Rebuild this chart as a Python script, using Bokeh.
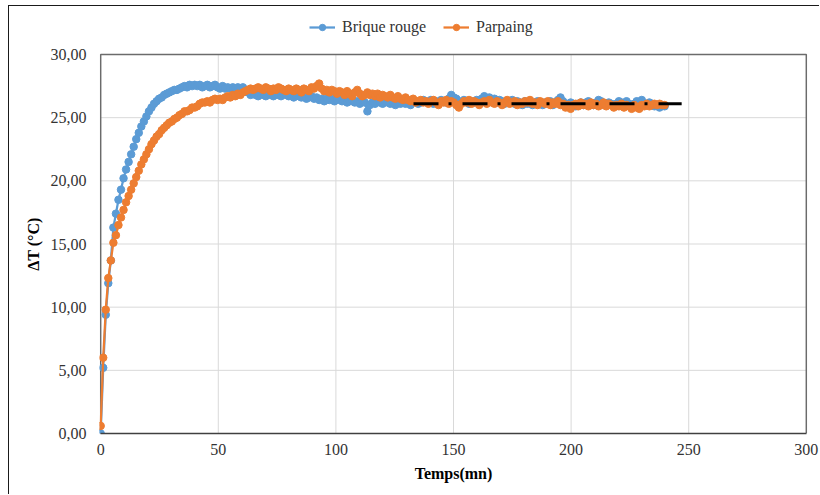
import numpy as np
from bokeh.plotting import figure
from bokeh.models import Range1d, Legend, LegendItem, CustomJSTickFormatter, FixedTicker
from bokeh.embed import file_html
from bokeh.resources import INLINE

# ---------------- data ----------------
sample_interval_min = 1.08

brique_rouge = [
    0.0, 5.2, 9.4, 11.9, 13.7, 16.3, 17.4, 18.5, 19.3, 20.2,
    20.9, 21.5, 22.1, 22.7, 23.3, 23.8, 24.3, 24.7, 25.1, 25.5,
    25.8, 26.1, 26.3, 26.5, 26.6, 26.8, 26.9, 27.0, 27.1, 27.2,
    27.2, 27.3, 27.4, 27.5, 27.4, 27.6, 27.5, 27.6, 27.5, 27.6,
    27.4, 27.5, 27.6, 27.4, 27.5, 27.6, 27.4, 27.3, 27.5, 27.3,
    27.4, 27.3, 27.4, 27.3, 27.4, 27.3, 27.4, 27.2, 27.0, 26.8,
    27.0, 26.8, 26.7, 26.9, 26.8, 26.7, 26.9, 26.8, 26.7, 26.9,
    26.8, 26.7, 26.9, 26.8, 26.7, 26.8, 26.6, 26.8, 26.7, 26.6,
    26.7, 26.5, 26.6, 26.7, 26.5, 26.6, 26.4, 26.5, 26.3, 26.5,
    26.4, 26.5, 26.3, 26.4, 26.5, 26.3, 26.4, 26.2, 26.3, 26.4,
    26.2, 26.3, 26.1, 26.3, 26.2, 25.5, 26.0, 26.2, 26.1, 26.3,
    26.2, 26.1, 26.3, 26.2, 26.1, 26.2, 26.0, 26.2, 26.1, 26.3,
    26.1, 26.2, 26.0, 26.2, 26.3, 26.1, 26.2, 26.4, 26.3, 26.2,
    26.4, 26.1, 26.3, 26.2, 26.4, 26.3, 26.2, 26.5, 26.8, 26.6,
    26.5, 26.3, 26.2, 26.4, 26.3, 26.1, 26.3, 26.2, 26.4, 26.3,
    26.5, 26.7, 26.4, 26.6, 26.3, 26.5, 26.2, 26.4, 26.3, 26.1,
    26.3, 26.2, 26.4, 26.1, 26.3, 26.2, 26.0, 26.3, 26.1, 26.2,
    26.0, 26.2, 26.3, 26.1, 26.0, 26.2, 26.1, 26.3, 26.0, 26.2,
    26.4, 26.6, 26.3, 26.1, 26.0, 26.2, 26.1, 25.9, 26.1, 26.2,
    26.0, 26.2, 26.3, 26.1, 26.0, 26.2, 26.4, 26.3, 26.1, 26.0,
    26.2, 26.1, 25.9, 26.1, 26.3, 26.2, 26.0, 26.3, 26.1, 25.9,
    26.1, 26.3, 26.2, 26.4, 26.1, 26.0, 26.2, 26.1, 25.9, 26.0,
    25.8, 26.0, 25.9,
]

parpaing = [
    0.6, 6.0, 9.8, 12.3, 13.7, 15.1, 15.7, 16.5, 17.1, 17.7,
    18.3, 18.8, 19.3, 19.8, 20.3, 20.8, 21.3, 21.7, 22.1, 22.5,
    22.9, 23.2, 23.5, 23.7, 24.0, 24.2, 24.4, 24.6, 24.7, 24.9,
    25.0, 25.2, 25.3, 25.5, 25.5, 25.6, 25.8, 25.8, 25.9, 26.1,
    26.2, 26.2, 26.3, 26.2, 26.4, 26.5, 26.4, 26.5, 26.4, 26.6,
    26.7, 26.6, 26.8, 26.7, 26.9, 26.8, 27.0, 27.1, 27.2, 27.3,
    27.2, 27.3, 27.4, 27.3, 27.2, 27.4, 27.3, 27.1, 27.3, 27.2,
    27.4, 27.3, 27.2, 27.1, 27.3, 27.2, 27.1, 27.3, 27.2, 27.0,
    27.3, 27.2, 27.1, 27.4, 27.3, 27.5, 27.7, 27.3, 27.1, 27.2,
    27.0, 27.2, 27.1, 26.9, 27.1, 27.0, 26.8, 27.1, 26.9, 26.7,
    27.0, 27.2, 26.9, 26.7, 26.8, 27.0, 26.8, 26.9, 26.7, 26.9,
    26.6, 26.8, 26.7, 26.6, 26.8, 26.6, 26.5, 26.7, 26.5, 26.4,
    26.6, 26.4, 26.3, 26.5, 26.2, 26.3, 26.4, 26.2, 26.3, 26.1,
    26.3, 26.4, 26.2, 26.0, 26.3, 26.2, 26.4, 26.1, 26.3, 26.2,
    26.0, 25.8, 26.1, 26.3, 26.2, 26.4, 26.1, 26.3, 26.2, 26.0,
    26.2, 26.3, 26.1, 26.4, 26.2, 26.1, 26.3, 26.2, 26.0, 26.2,
    26.4, 26.1, 26.2, 26.3, 26.0, 26.2, 26.1, 26.3, 26.2, 26.4,
    26.1, 26.2, 26.0, 26.3, 26.2, 26.1, 26.3, 26.0, 26.2, 26.1,
    26.3, 26.0, 26.1, 25.8, 26.0, 25.7, 26.0, 26.1, 25.9, 26.2,
    26.0, 26.1, 25.9, 26.2, 26.0, 26.1, 25.9, 26.0, 26.2, 25.9,
    26.1, 26.0, 25.8, 26.0, 25.9, 26.1, 25.8, 26.0, 25.9, 25.7,
    26.0, 25.8, 25.7, 26.0, 25.9, 26.1, 25.9, 26.0, 26.1, 26.0,
    26.1, 26.0, 26.0,
]

temps_brique = (np.arange(len(brique_rouge)) * sample_interval_min).tolist()
temps_parpaing = (np.arange(len(parpaing)) * sample_interval_min).tolist()

# horizontal steady-state reference line
palier_x = [133, 247]
palier_y = [26.1, 26.1]

x_ticks = [0, 50, 100, 150, 200, 250, 300]
y_ticks = [0, 5, 10, 15, 20, 25, 30]

series_names = ["Brique rouge", "Parpaing"]
x_title = "Temps(mn)"
y_title = "ΔT (°C)"
BLUE = "#5B9BD5"
ORANGE = "#ED7D31"
FONT = "Liberation Serif"

x_min, x_max = x_ticks[0], x_ticks[-1]
y_min, y_max = y_ticks[0], y_ticks[-1]

# ---------------- figure ----------------
# The frame extends above y=30 so that the legend (drawn inside the frame) is not clipped;
# the visible plot box (0..300 x 0..30) is drawn explicitly.
p = figure(
    width=811, height=489,
    output_backend="svg", toolbar_location=None,
    x_range=Range1d(-0.5, 300.5), y_range=Range1d(0, 33.8),
    min_border_left=90, min_border_right=13,
    min_border_top=0, min_border_bottom=62,
)
p.styles = {
    "margin-left": "8px", "margin-top": "5px",
    "border-left": "1px solid #1a1a1a", "border-top": "1px solid #1a1a1a",
}
p.background_fill_color = "white"
p.border_fill_color = "white"
p.outline_line_color = None
p.xgrid.visible = False
p.ygrid.visible = False

p.xaxis.ticker = FixedTicker(ticks=x_ticks)
p.yaxis.ticker = FixedTicker(ticks=y_ticks)
p.xaxis.bounds = (x_min, x_max)
p.yaxis.bounds = (y_min, y_max)
p.yaxis.formatter = CustomJSTickFormatter(code="return tick.toFixed(2).replace('.', ',');")

for ax in (p.xaxis, p.yaxis):
    ax.major_tick_line_color = None
    ax.minor_tick_line_color = None
    ax.major_tick_out = 0
    ax.major_tick_in = 0
    ax.major_label_text_font = FONT
    ax.major_label_text_font_size = "16px"
    ax.major_label_text_color = "#333333"
    ax.axis_label_text_font = FONT
    ax.axis_label_text_font_size = "16px"
    ax.axis_label_text_font_style = "bold"
    ax.axis_label_text_color = "#000000"

p.xaxis.axis_line_color = "#404040"
p.xaxis.axis_line_width = 1.5
p.yaxis.axis_line_color = None
p.xaxis.major_label_standoff = 10
p.yaxis.major_label_standoff = 13
p.xaxis.axis_label = x_title
# trailing no-break spaces shift the visible (rotated) title down to the centre of 0..30
p.yaxis.axis_label = y_title + "\u00a0" * 12
p.xaxis.axis_label_standoff = 7
p.yaxis.axis_label_standoff = 6

# grid lines at the tick positions
p.segment(x0=x_ticks[1:-1], y0=[y_min] * (len(x_ticks) - 2),
          x1=x_ticks[1:-1], y1=[y_max] * (len(x_ticks) - 2),
          line_color="#d9d9d9", line_width=1)
p.segment(x0=[x_min] * (len(y_ticks) - 1), y0=y_ticks[1:],
          x1=[x_max] * (len(y_ticks) - 1), y1=y_ticks[1:],
          line_color="#d9d9d9", line_width=1)
# plot-area box (left, top, right)
p.line([x_min, x_min, x_max, x_max], [y_min, y_max, y_max, y_min],
       line_color="#6b6b6b", line_width=1.5)

l1 = p.line(temps_brique, brique_rouge, line_color=BLUE, line_width=2.25)
s1 = p.scatter(temps_brique, brique_rouge, size=7.5, fill_color=BLUE, line_color=BLUE)
l2 = p.line(temps_parpaing, parpaing, line_color=ORANGE, line_width=2.25)
s2 = p.scatter(temps_parpaing, parpaing, size=7.5, fill_color=ORANGE, line_color=ORANGE)

p.line(palier_x, palier_y, line_color="black", line_width=3, line_dash="25 10 3 11")

legend = Legend(
    items=[LegendItem(label=series_names[0], renderers=[l1, s1]),
           LegendItem(label=series_names[1], renderers=[l2, s2])],
    orientation="horizontal",
    location=(210, 397),
    margin=0, padding=0, spacing=17,
    glyph_width=26, glyph_height=16, label_height=16, label_standoff=7,
    label_text_font=FONT, label_text_font_size="16px", label_text_color="#333333",
    border_line_color=None, background_fill_alpha=0,
)
p.add_layout(legend, "center")

open("out.html", "w").write(file_html(p, INLINE))
